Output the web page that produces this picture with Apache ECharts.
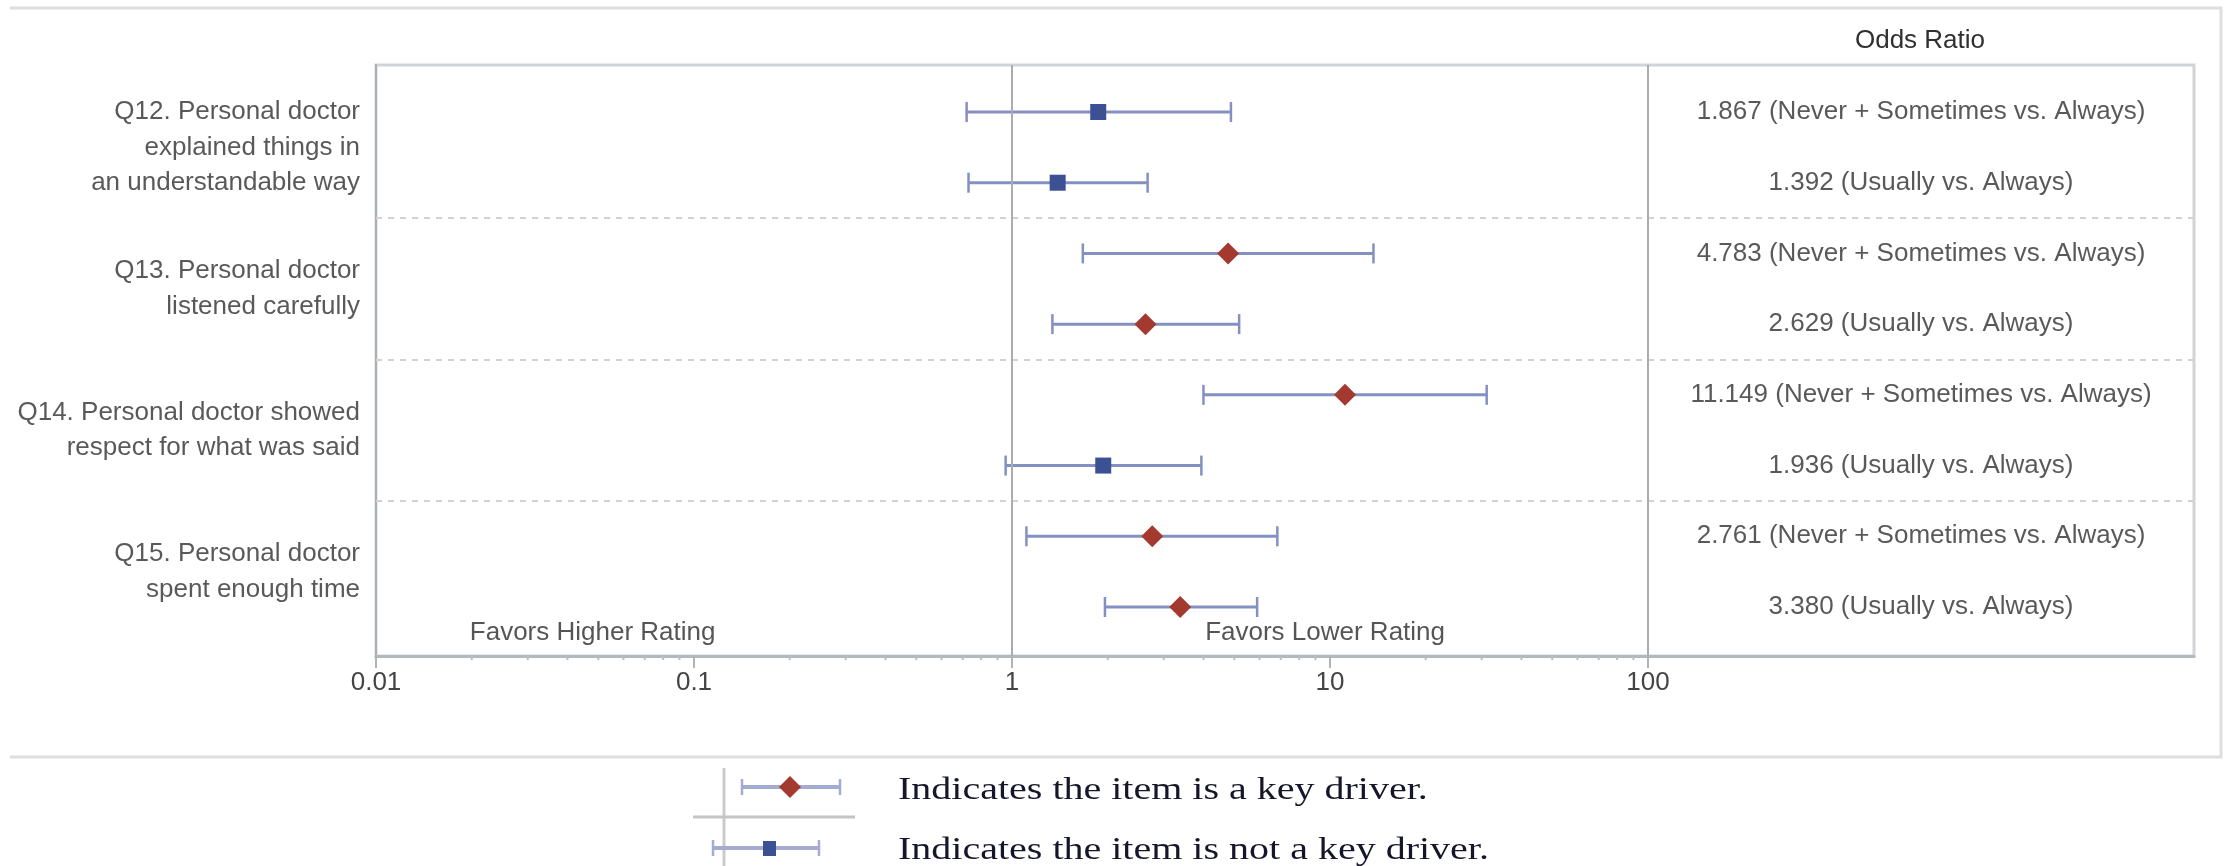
<!DOCTYPE html>
<html>
<head>
<meta charset="utf-8">
<script src="https://cdn.jsdelivr.net/npm/echarts@6.0.0/dist/echarts.min.js"></script>
<style>
html,body{margin:0;padding:0;background:#ffffff;}
#chart{width:2231px;height:866px;}
</style>
</head>
<body>
<div id="chart"></div>
<script>
// ---------------- data ----------------
const groupLabels = [
  'Q12. Personal doctor\nexplained things in\nan understandable way',
  'Q13. Personal doctor\nlistened carefully',
  'Q14. Personal doctor showed\nrespect for what was said',
  'Q15. Personal doctor\nspent enough time'
];
const groupCenters = [1.5, 3.5, 5.5, 7.5];
const groupSeparators = [2.5, 4.5, 6.5];
const rowPositions = [1, 2, 3, 4, 5, 6, 7, 8];
const comparisons = [
  'Never + Sometimes vs. Always', 'Usually vs. Always',
  'Never + Sometimes vs. Always', 'Usually vs. Always',
  'Never + Sometimes vs. Always', 'Usually vs. Always',
  'Never + Sometimes vs. Always', 'Usually vs. Always'
];
const oddsRatio = [1.867, 1.392, 4.783, 2.629, 11.149, 1.936, 2.761, 3.380];
const ciLower   = [0.72, 0.73, 1.67, 1.34, 4.0, 0.955, 1.11, 1.96];
const ciUpper   = [4.88, 2.67, 13.7, 5.18, 31.1, 3.94, 6.83, 5.9];
const keyDriver = [false, false, true, true, true, false, true, true];
const xTickValues = [0.01, 0.1, 1, 10, 100];
const xTickLabels = ['0.01', '0.1', '1', '10', '100'];
const xMinorTickValues = [0.02,0.03,0.04,0.05,0.06,0.07,0.08,0.09,
                          0.2,0.3,0.4,0.5,0.6,0.7,0.8,0.9,
                          2,3,4,5,6,7,8,9,
                          20,30,40,50,60,70,80,90];
const referenceLines = [1, 100];
const favorsLabels = ['Favors Higher Rating', 'Favors Lower Rating'];
const favorsX = [0.048, 9.65];
const favorsY = 8.37;
const columnHeader = 'Odds Ratio';
const legendLabels = ['Indicates the item is a key driver.', 'Indicates the item is not a key driver.'];

// ---------------- layout ----------------
const X_MIN = 0.01, X_MAX = 5212;        // axis continues (unlabelled) under the odds-ratio column
const Y_MIN = 0.3353, Y_MAX = 8.693;
const TEXT_X = Math.sqrt(100 * X_MAX);   // centre of the right-hand column (log space)
const FONT = '"Liberation Sans", Arial, sans-serif';
const SERIF = '"Liberation Serif", "Times New Roman", serif';
const BAR_COLOR = '#8590c2';
const RED = '#a3392f';
const BLUE = '#3b5193';
const TEXT = '#303030';

const chart = echarts.init(document.getElementById('chart'), null, {renderer: 'canvas'});

const tickData = xTickValues.map(v => [v, Y_MAX, 12, 1]).concat(xMinorTickValues.map(v => [v, Y_MAX, 4, 0]));
const barData = rowPositions.map((r, i) => [ciLower[i], ciUpper[i], r]);
const keyData = rowPositions.map((r, i) => keyDriver[i] ? [oddsRatio[i], r] : null).filter(d => d);
const notKeyData = rowPositions.map((r, i) => !keyDriver[i] ? [oddsRatio[i], r] : null).filter(d => d);

const option = {
  animation: false,
  backgroundColor: '#ffffff',
  grid: {
    left: 376, right: 37, top: 65, bottom: 210,
    show: true, borderColor: '#d0d4d7', borderWidth: 3, backgroundColor: 'transparent'
  },
  xAxis: {
    type: 'log', logBase: 10, min: X_MIN, max: X_MAX,
    axisLine: {show: true, lineStyle: {color: '#b3b8bc', width: 3}},
    axisTick: {show: false},
    splitLine: {show: false},
    axisLabel: {
      show: true, margin: 14, fontSize: 26, color: '#444444', fontFamily: FONT,
      formatter: function (v) {
        const i = xTickValues.findIndex(t => Math.abs(Math.log10(t) - Math.log10(v)) < 1e-6);
        return i >= 0 ? xTickLabels[i] : '';
      }
    }
  },
  yAxis: {
    type: 'value', inverse: true, min: Y_MIN, max: Y_MAX,
    axisLine: {show: true, lineStyle: {color: '#aab0b4', width: 2}},
    axisTick: {show: false}, axisLabel: {show: false}, splitLine: {show: false}
  },
  series: [
    {
      type: 'scatter', name: 'frame', symbolSize: 0, data: [], silent: true, clip: false,
      markLine: {
        silent: true, symbol: ['none', 'none'], label: {show: false}, animation: false,
        data: groupSeparators.map(v => ({yAxis: v, lineStyle: {color: '#d2d2d2', width: 2, type: [6, 6]}}))
          .concat(referenceLines.map(v => ({xAxis: v, lineStyle: {color: '#a9adb1', width: 2, type: 'solid'}})))
      }
    },
    {
      type: 'custom', name: 'ticks', data: tickData, clip: false, silent: true,
      encode: {x: 0, y: 1},
      renderItem: function (params, api) {
        const p = api.coord([api.value(0), api.value(1)]);
        const major = api.value(3) === 1;
        return {
          type: 'line',
          shape: {x1: p[0], y1: p[1], x2: p[0], y2: p[1] + api.value(2)},
          style: {stroke: major ? '#b0b4b8' : '#bcbcbc', lineWidth: 2}
        };
      }
    },
    {
      type: 'custom', name: 'CI', data: barData, clip: false, silent: true, z: 3,
      encode: {x: [0, 1], y: 2},
      renderItem: function (params, api) {
        const y = api.value(2);
        const a = api.coord([api.value(0), y]);
        const b = api.coord([api.value(1), y]);
        const h = 10;
        const st = {stroke: BAR_COLOR, lineWidth: 3};
        return {
          type: 'group',
          children: [
            {type: 'line', shape: {x1: a[0], y1: a[1], x2: b[0], y2: b[1]}, style: st},
            {type: 'line', shape: {x1: a[0], y1: a[1] - h, x2: a[0], y2: a[1] + h}, style: {stroke: BAR_COLOR, lineWidth: 2.5}},
            {type: 'line', shape: {x1: b[0], y1: b[1] - h, x2: b[0], y2: b[1] + h}, style: {stroke: BAR_COLOR, lineWidth: 2.5}}
          ]
        };
      }
    },
    {
      type: 'scatter', name: 'Key driver', data: keyData, symbol: 'diamond', symbolSize: [22, 22],
      itemStyle: {color: RED, opacity: 1}, z: 5, clip: false
    },
    {
      type: 'scatter', name: 'Not a key driver', data: notKeyData, symbol: 'rect', symbolSize: [16, 16],
      itemStyle: {color: BLUE, opacity: 1}, z: 5, clip: false
    },
    {
      type: 'scatter', name: 'OR text', symbolSize: 0, clip: false, silent: true,
      data: rowPositions.map(r => [TEXT_X, r]),
      label: {
        show: true, position: 'inside', fontSize: 26, color: TEXT, fontFamily: FONT,
        formatter: p => oddsRatio[p.dataIndex].toFixed(3) + ' (' + comparisons[p.dataIndex] + ')'
      }
    },
    {
      type: 'scatter', name: 'group labels', symbolSize: 0, clip: false, silent: true,
      data: groupCenters.map(c => [X_MIN, c]),
      label: {
        show: true, position: 'left', distance: 16, align: 'right', fontSize: 26, lineHeight: 35.5,
        color: TEXT, fontFamily: FONT,
        formatter: p => groupLabels[p.dataIndex]
      }
    },
    {
      type: 'scatter', name: 'favors', symbolSize: 0, clip: false, silent: true,
      data: favorsX.map(x => [x, favorsY]),
      label: {
        show: true, position: 'inside', fontSize: 26, color: '#2a2a2a', fontFamily: FONT,
        formatter: p => favorsLabels[p.dataIndex]
      }
    }
  ],
  graphic: [
    {type: 'polyline', silent: true, shape: {points: [[10, 8], [2221, 8], [2221, 757], [10, 757]]},
     style: {stroke: '#dedede', lineWidth: 3, fill: null}},
    {type: 'text', silent: true, x: 1920, y: 41,
     style: {text: columnHeader, fontSize: 26, fontFamily: FONT, fill: TEXT, align: 'center', verticalAlign: 'middle'}},
    // legend (pasted key)
    {type: 'line', silent: true, shape: {x1: 724, y1: 768, x2: 724, y2: 866}, style: {stroke: '#cacaca', lineWidth: 3}},
    {type: 'line', silent: true, shape: {x1: 693, y1: 817, x2: 855, y2: 817}, style: {stroke: '#c4c4c4', lineWidth: 3}},
    {type: 'line', silent: true, shape: {x1: 742, y1: 787, x2: 840, y2: 787}, style: {stroke: '#a3abd2', lineWidth: 4}},
    {type: 'line', silent: true, shape: {x1: 742, y1: 779, x2: 742, y2: 795}, style: {stroke: '#a3abd2', lineWidth: 2.5}},
    {type: 'line', silent: true, shape: {x1: 840, y1: 779, x2: 840, y2: 795}, style: {stroke: '#a3abd2', lineWidth: 2.5}},
    {type: 'polygon', silent: true, shape: {points: [[790, 776], [801, 787], [790, 798], [779, 787]]}, style: {fill: RED}},
    {type: 'line', silent: true, shape: {x1: 713, y1: 848, x2: 819, y2: 848}, style: {stroke: '#a3abd2', lineWidth: 4}},
    {type: 'line', silent: true, shape: {x1: 713, y1: 840, x2: 713, y2: 856}, style: {stroke: '#a3abd2', lineWidth: 2.5}},
    {type: 'line', silent: true, shape: {x1: 819, y1: 840, x2: 819, y2: 856}, style: {stroke: '#a3abd2', lineWidth: 2.5}},
    {type: 'rect', silent: true, shape: {x: 763, y: 841, width: 13, height: 15}, style: {fill: BLUE}},
    {type: 'text', silent: true, x: 898, y: 791, scaleX: 1.25,
     style: {text: legendLabels[0], fontSize: 32, fontFamily: SERIF, fill: '#16162a', verticalAlign: 'middle'}},
    {type: 'text', silent: true, x: 898, y: 851, scaleX: 1.25,
     style: {text: legendLabels[1], fontSize: 32, fontFamily: SERIF, fill: '#16162a', verticalAlign: 'middle'}}
  ]
};
chart.setOption(option);
</script>
</body>
</html>
